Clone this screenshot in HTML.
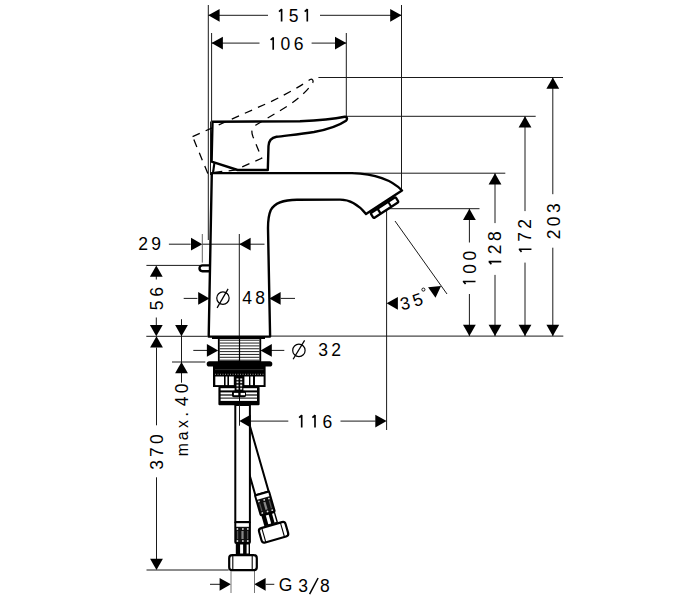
<!DOCTYPE html>
<html><head><meta charset="utf-8"><style>
html,body{margin:0;padding:0;background:#fff;overflow:hidden;width:700px;height:600px;}
svg{display:block;}
text{font-family:"Liberation Sans",sans-serif;fill:#000;}
</style></head><body>
<svg width="700" height="600" viewBox="0 0 700 600">
<rect width="700" height="600" fill="#fff"/>
<line x1="208.3" y1="5" x2="208.3" y2="240" stroke="#1a1a1a" stroke-width="1.0" />
<line x1="401.5" y1="5" x2="401.5" y2="190" stroke="#1a1a1a" stroke-width="1.0" />
<line x1="208.3" y1="15.3" x2="268" y2="15.3" stroke="#1a1a1a" stroke-width="1.0" />
<line x1="320" y1="15.3" x2="401.5" y2="15.3" stroke="#1a1a1a" stroke-width="1.0" />
<polygon points="208.30,15.30 219.60,8.90 219.60,21.70" fill="#000"/>
<polygon points="401.50,15.30 390.20,21.70 390.20,8.90" fill="#000"/>
<line x1="211.6" y1="33" x2="211.6" y2="121.5" stroke="#1a1a1a" stroke-width="1.0" />
<line x1="210.5" y1="121.5" x2="210.5" y2="175" stroke="#1a1a1a" stroke-width="1.0" />
<line x1="346.3" y1="33" x2="346.3" y2="117" stroke="#1a1a1a" stroke-width="1.0" />
<line x1="211.6" y1="43.1" x2="259.5" y2="43.1" stroke="#1a1a1a" stroke-width="1.0" />
<line x1="311.6" y1="43.1" x2="346.3" y2="43.1" stroke="#1a1a1a" stroke-width="1.0" />
<polygon points="211.60,43.10 222.90,36.70 222.90,49.50" fill="#000"/>
<polygon points="346.30,43.10 335.00,49.50 335.00,36.70" fill="#000"/>
<line x1="318.4" y1="77.5" x2="563" y2="77.5" stroke="#1a1a1a" stroke-width="1.0" />
<line x1="346.5" y1="116.3" x2="535.7" y2="116.3" stroke="#1a1a1a" stroke-width="1.0" />
<line x1="355" y1="173.2" x2="505.3" y2="173.2" stroke="#1a1a1a" stroke-width="1.0" />
<line x1="386.6" y1="208.7" x2="479.5" y2="208.7" stroke="#1a1a1a" stroke-width="1.0" />
<line x1="271" y1="336.1" x2="563.3" y2="336.1" stroke="#1a1a1a" stroke-width="1.0" />
<line x1="552.8" y1="77.5" x2="552.8" y2="194.2" stroke="#1a1a1a" stroke-width="1.0" />
<line x1="552.8" y1="247.7" x2="552.8" y2="336.1" stroke="#1a1a1a" stroke-width="1.0" />
<polygon points="552.80,77.50 559.20,88.80 546.40,88.80" fill="#000"/>
<polygon points="552.80,336.10 546.40,324.80 559.20,324.80" fill="#000"/>
<line x1="525.0" y1="116.3" x2="525.0" y2="211.1" stroke="#1a1a1a" stroke-width="1.0" />
<line x1="525.0" y1="262.6" x2="525.0" y2="336.1" stroke="#1a1a1a" stroke-width="1.0" />
<polygon points="525.00,116.30 531.40,127.60 518.60,127.60" fill="#000"/>
<polygon points="525.00,336.10 518.60,324.80 531.40,324.80" fill="#000"/>
<line x1="495.0" y1="173.2" x2="495.0" y2="223.1" stroke="#1a1a1a" stroke-width="1.0" />
<line x1="495.0" y1="274.9" x2="495.0" y2="336.1" stroke="#1a1a1a" stroke-width="1.0" />
<polygon points="495.00,173.20 501.40,184.50 488.60,184.50" fill="#000"/>
<polygon points="495.00,336.10 488.60,324.80 501.40,324.80" fill="#000"/>
<line x1="469.4" y1="208.7" x2="469.4" y2="242.5" stroke="#1a1a1a" stroke-width="1.0" />
<line x1="469.4" y1="294.0" x2="469.4" y2="336.1" stroke="#1a1a1a" stroke-width="1.0" />
<polygon points="469.40,208.70 475.80,220.00 463.00,220.00" fill="#000"/>
<polygon points="469.40,336.10 463.00,324.80 475.80,324.80" fill="#000"/>
<line x1="386.6" y1="208.7" x2="386.6" y2="430" stroke="#1a1a1a" stroke-width="1.0" />
<line x1="395" y1="221" x2="447" y2="294" stroke="#1a1a1a" stroke-width="1.0" />
<line x1="250.5" y1="421.1" x2="288.3" y2="421.1" stroke="#1a1a1a" stroke-width="1.0" />
<line x1="340.5" y1="421.1" x2="375.7" y2="421.1" stroke="#1a1a1a" stroke-width="1.0" />
<polygon points="386.60,421.10 375.30,427.50 375.30,414.70" fill="#000"/>
<polygon points="386.60,303.30 397.90,296.90 397.90,309.70" fill="#000"/>
<polygon points="441.00,286.00 435.50,297.77 428.08,287.34" fill="#000"/>
<line x1="146.3" y1="336.3" x2="207.7" y2="336.3" stroke="#1a1a1a" stroke-width="1.0" />
<line x1="146.4" y1="265.4" x2="200" y2="265.4" stroke="#1a1a1a" stroke-width="1.0" />
<line x1="172" y1="362" x2="205.3" y2="362" stroke="#1a1a1a" stroke-width="1.0" />
<line x1="146.5" y1="570" x2="228.7" y2="570" stroke="#1a1a1a" stroke-width="1.0" />
<line x1="156.3" y1="276" x2="156.3" y2="279.5" stroke="#1a1a1a" stroke-width="1.0" />
<line x1="156.3" y1="317.5" x2="156.3" y2="325.8" stroke="#1a1a1a" stroke-width="1.0" />
<polygon points="156.30,265.40 162.70,276.70 149.90,276.70" fill="#000"/>
<polygon points="156.30,336.30 149.90,325.00 162.70,325.00" fill="#000"/>
<line x1="156.5" y1="347.5" x2="156.5" y2="425.3" stroke="#1a1a1a" stroke-width="1.0" />
<line x1="156.5" y1="477.3" x2="156.5" y2="559.2" stroke="#1a1a1a" stroke-width="1.0" />
<polygon points="156.50,336.30 162.90,347.60 150.10,347.60" fill="#000"/>
<polygon points="156.50,570.00 150.10,558.70 162.90,558.70" fill="#000"/>
<line x1="181.5" y1="319.2" x2="181.5" y2="382.7" stroke="#1a1a1a" stroke-width="1.0" />
<polygon points="181.50,336.30 175.10,325.00 187.90,325.00" fill="#000"/>
<polygon points="181.50,362.00 187.90,373.30 175.10,373.30" fill="#000"/>
<line x1="168.9" y1="244.2" x2="190.7" y2="244.2" stroke="#1a1a1a" stroke-width="1.0" />
<line x1="202.3" y1="244.2" x2="264.5" y2="244.2" stroke="#1a1a1a" stroke-width="1.0" />
<polygon points="202.30,244.20 191.00,250.60 191.00,237.80" fill="#000"/>
<polygon points="239.30,244.20 250.60,237.80 250.60,250.60" fill="#000"/>
<line x1="202.3" y1="234" x2="202.3" y2="262.6" stroke="#555" stroke-width="0.9" />
<line x1="239.3" y1="234" x2="239.3" y2="430" stroke="#1a1a1a" stroke-width="1.0" />
<line x1="183.7" y1="298.4" x2="197.4" y2="298.4" stroke="#1a1a1a" stroke-width="1.0" />
<line x1="280.7" y1="298.4" x2="295" y2="298.4" stroke="#1a1a1a" stroke-width="1.0" />
<polygon points="209.50,298.40 198.20,304.80 198.20,292.00" fill="#000"/>
<polygon points="269.30,298.40 280.60,292.00 280.60,304.80" fill="#000"/>
<line x1="193.3" y1="350.4" x2="207.7" y2="350.4" stroke="#1a1a1a" stroke-width="1.0" />
<line x1="270.7" y1="350.4" x2="284.3" y2="350.4" stroke="#1a1a1a" stroke-width="1.0" />
<polygon points="218.20,350.40 206.90,356.80 206.90,344.00" fill="#000"/>
<polygon points="260.50,350.40 271.80,344.00 271.80,356.80" fill="#000"/>
<line x1="309.6" y1="594.2" x2="318.1" y2="578.0" stroke="#000" stroke-width="1.5" />
<line x1="210" y1="584.3" x2="220" y2="584.3" stroke="#1a1a1a" stroke-width="1.0" />
<line x1="265.7" y1="584.3" x2="274.3" y2="584.3" stroke="#1a1a1a" stroke-width="1.0" />
<polygon points="230.90,584.30 219.60,590.70 219.60,577.90" fill="#000"/>
<polygon points="254.30,584.30 265.60,577.90 265.60,590.70" fill="#000"/>
<line x1="231" y1="570" x2="231" y2="593" stroke="#666" stroke-width="0.9" />
<line x1="254.5" y1="570" x2="254.5" y2="593" stroke="#666" stroke-width="0.9" />
<path d="M 212.5 121.7 L 300 121.3 C 320 120.3 335 118.7 344.8 116.8 C 347.2 116.4 347.6 119.4 346 120.7 C 340 124.8 330 129 314 132 C 300 134.2 285 135.6 276.5 136.8 C 271 137.8 268.8 140.5 268.5 146 L 267.8 170 L 237.6 170 L 211.6 161.6 Z" transform="translate(236.34 177.58) rotate(-23.77) scale(0.987) translate(-236.34 -177.58)" fill="none" stroke="#000" stroke-width="1.3" stroke-dasharray="8 6.5"/>
<path d="M 212.5 121.7 L 300 121.3 C 320 120.3 335 118.7 344.8 116.8 C 347.2 116.4 347.6 119.4 346 120.7 C 340 124.8 330 129 314 132 C 300 134.2 285 135.6 276.5 136.8 C 271 137.8 268.8 140.5 268.5 146 L 267.8 170 L 237.6 170 L 211.6 161.6 Z" stroke="#000" stroke-width="2.4" fill="none" stroke-linejoin="round" stroke-linecap="round"/>
<line x1="214.4" y1="163" x2="213" y2="173" stroke="#000" stroke-width="2.1" />
<path d="M 211.8 173.1 L 352 173.1 C 376 174 392 180 402 190.5 L 366 214 C 358 204 350 199.6 340 199.6 L 297 199.7 C 283 199.8 274.5 203 270.8 210 C 268.6 215 268 221 268 228 L 270.1 336.6 L 208.7 336.6 Z" stroke="#000" stroke-width="2.4" fill="none" stroke-linejoin="round" stroke-linecap="round"/>
<path d="M 209.8 265.4 L 202.4 265.4 A 2.9 2.9 0 0 0 202.4 271.2 L 209.8 271.2" stroke="#000" stroke-width="2.4" fill="none" stroke-linejoin="round" stroke-linecap="round" stroke-width="2"/>
<g transform="translate(383.4 203.8) rotate(-33.1)"><rect x="-16" y="0.9" width="29.8" height="5.9" rx="1.4" fill="#fff" stroke="#000" stroke-width="2.3"/><rect x="-8.8" y="0.9" width="2.3" height="5.9" fill="#000"/><rect x="4.0" y="0.9" width="2.0" height="5.9" fill="#000"/></g>
<rect x="218.8" y="337" width="41.5" height="24.5" fill="#fff" stroke="#000" stroke-width="1.8"/>
<rect x="212" y="336.8" width="53" height="2.2" fill="#000"/>
<line x1="219.5" y1="340.2" x2="259.5" y2="340.2" stroke="#222" stroke-width="1.0" />
<line x1="219.5" y1="343.05" x2="259.5" y2="343.05" stroke="#222" stroke-width="1.0" />
<line x1="219.5" y1="345.9" x2="259.5" y2="345.9" stroke="#222" stroke-width="1.0" />
<line x1="219.5" y1="348.75" x2="259.5" y2="348.75" stroke="#222" stroke-width="1.0" />
<line x1="219.5" y1="351.59999999999997" x2="259.5" y2="351.59999999999997" stroke="#222" stroke-width="1.0" />
<line x1="219.5" y1="354.45" x2="259.5" y2="354.45" stroke="#222" stroke-width="1.0" />
<line x1="219.5" y1="357.3" x2="259.5" y2="357.3" stroke="#222" stroke-width="1.0" />
<line x1="219.5" y1="360.15" x2="259.5" y2="360.15" stroke="#222" stroke-width="1.0" />
<line x1="239.5" y1="337" x2="239.5" y2="362" stroke="#000" stroke-width="1.2" />
<rect x="206.7" y="361.2" width="65.6" height="5.3" rx="2.6" fill="#000"/>
<rect x="213" y="366" width="52.6" height="21" fill="#000"/>
<line x1="215" y1="369.6" x2="263.5" y2="369.6" stroke="#444" stroke-width="0.7" />
<line x1="215" y1="374.3" x2="263.5" y2="374.3" stroke="#999" stroke-width="1" stroke-dasharray="1 1.5"/>
<rect x="215.3" y="376.5" width="8.70" height="8.6" fill="#fff"/>
<rect x="225.6" y="376.5" width="1.80" height="8.6" fill="#fff"/>
<rect x="229" y="376.5" width="4.80" height="8.6" fill="#fff"/>
<rect x="244.4" y="376.5" width="4.60" height="8.6" fill="#fff"/>
<rect x="250.4" y="376.5" width="2.60" height="8.6" fill="#fff"/>
<rect x="255" y="376.5" width="8.60" height="8.6" fill="#fff"/>
<rect x="218.4" y="386.5" width="41.2" height="18.7" rx="1.2" fill="#000"/>
<rect x="220.6" y="388.2" width="36.4" height="2.20" fill="#fff"/>
<rect x="220.6" y="392.4" width="36.4" height="2.00" fill="#fff"/>
<rect x="220.6" y="395.6" width="36.4" height="2.00" fill="#fff"/>
<rect x="220.6" y="398.6" width="36.4" height="2.30" fill="#fff"/>
<line x1="239.5" y1="397" x2="239.5" y2="404.5" stroke="#000" stroke-width="1" />
<rect x="234.6" y="375.5" width="8.8" height="16" fill="#000"/>
<rect x="236.5" y="378.4" width="2" height="1.8" fill="#e8e8e8"/>
<rect x="240.2" y="378.4" width="2" height="1.8" fill="#e8e8e8"/>
<rect x="236.5" y="381.4" width="2" height="1.8" fill="#e8e8e8"/>
<rect x="240.2" y="381.4" width="2" height="1.8" fill="#e8e8e8"/>
<rect x="236.5" y="384.6" width="2" height="1.8" fill="#e8e8e8"/>
<rect x="240.2" y="384.6" width="2" height="1.8" fill="#e8e8e8"/>
<rect x="236.5" y="387.8" width="2" height="1.8" fill="#e8e8e8"/>
<rect x="240.2" y="387.8" width="2" height="1.8" fill="#e8e8e8"/>
<rect x="232" y="390.8" width="14" height="6.4" rx="1.6" fill="#000"/>
<rect x="233.9" y="392.9" width="4.4" height="2.3" fill="#fff"/>
<rect x="240.6" y="392.9" width="4.4" height="2.3" fill="#fff"/>
<g transform="translate(262 493.3) rotate(-16)"><rect x="-6.9" y="-70" width="13.8" height="70" fill="#fff" stroke="#000" stroke-width="2"/><rect x="-7.4" y="0" width="14.8" height="21" rx="1" fill="#111" stroke="#000" stroke-width="1.8"/><rect x="-6.3" y="1.2" width="12.6" height="3.6" fill="#fff"/><circle cx="-5.2" cy="7" r="0.9" fill="#ddd"/><circle cx="-5.2" cy="19" r="0.9" fill="#ddd"/><circle cx="0.3" cy="7" r="0.9" fill="#ddd"/><circle cx="0.3" cy="19" r="0.9" fill="#ddd"/><circle cx="5.2" cy="7" r="0.9" fill="#ddd"/><circle cx="5.2" cy="19" r="0.9" fill="#ddd"/><rect x="-1.2" y="9" width="2.2" height="8" fill="#888"/><rect x="-5.6" y="9" width="1.2" height="8" fill="#555"/><rect x="4.4" y="9" width="1.2" height="8" fill="#555"/><rect x="-6.8" y="21" width="14.2" height="11.6" fill="#000"/><rect x="-2.5" y="22.5" width="3" height="9" fill="#fff"/><rect x="4" y="22.5" width="2" height="9" fill="#fff"/><rect x="-13.4" y="33.2" width="27.6" height="15" rx="3" fill="#fff" stroke="#000" stroke-width="2.2"/><line x1="-9.8" y1="33.2" x2="-9.8" y2="48.2" stroke="#000" stroke-width="1.1"/><line x1="9.6" y1="33.2" x2="9.6" y2="48.2" stroke="#000" stroke-width="1.1"/></g>
<rect x="235.3" y="405" width="14.6" height="117" fill="#fff" stroke="#000" stroke-width="2"/>
<line x1="239.5" y1="404.5" x2="239.5" y2="425.7" stroke="#1a1a1a" stroke-width="1.0" />
<g transform="translate(242.6 522)"><rect x="-7.4" y="0" width="14.8" height="21" rx="1" fill="#111" stroke="#000" stroke-width="1.8"/><rect x="-6.3" y="1.2" width="12.6" height="3.6" fill="#fff"/><circle cx="-5.2" cy="7" r="0.9" fill="#ddd"/><circle cx="-5.2" cy="19" r="0.9" fill="#ddd"/><circle cx="0.3" cy="7" r="0.9" fill="#ddd"/><circle cx="0.3" cy="19" r="0.9" fill="#ddd"/><circle cx="5.2" cy="7" r="0.9" fill="#ddd"/><circle cx="5.2" cy="19" r="0.9" fill="#ddd"/><rect x="-1.2" y="9" width="2.2" height="8" fill="#888"/><rect x="-5.6" y="9" width="1.2" height="8" fill="#555"/><rect x="4.4" y="9" width="1.2" height="8" fill="#555"/><rect x="-6.8" y="21" width="14.2" height="11.6" fill="#000"/><rect x="-2.5" y="22.5" width="3" height="9" fill="#fff"/><rect x="4" y="22.5" width="2" height="9" fill="#fff"/><rect x="-13.4" y="33.2" width="27.6" height="15" rx="3" fill="#fff" stroke="#000" stroke-width="2.2"/><line x1="-9.8" y1="33.2" x2="-9.8" y2="48.2" stroke="#000" stroke-width="1.1"/><line x1="9.6" y1="33.2" x2="9.6" y2="48.2" stroke="#000" stroke-width="1.1"/></g>
<polygon points="239.30,421.10 250.60,414.70 250.60,427.50" fill="#000"/>
<g transform="translate(293.50 15.25)"><path d="M -11.90 -6.35 L -11.90 6.25 M -11.70 -6.05 L -14.50 -3.65" stroke="#000" stroke-width="1.65" fill="none" stroke-linecap="butt"/><text x="0.00" y="6.25" text-anchor="middle" font-size="17.5">5</text><path d="M 13.80 -6.35 L 13.80 6.25 M 14.00 -6.05 L 11.20 -3.65" stroke="#000" stroke-width="1.65" fill="none" stroke-linecap="butt"/></g>
<g transform="translate(285.40 43.60)"><path d="M -12.20 -6.35 L -12.20 6.25 M -12.00 -6.05 L -14.80 -3.65" stroke="#000" stroke-width="1.65" fill="none" stroke-linecap="butt"/><text x="0.00" y="6.25" text-anchor="middle" font-size="17.5">0</text><text x="13.15" y="6.25" text-anchor="middle" font-size="17.5">6</text></g>
<g transform="translate(149.60 244.00)"><text x="-6.60" y="6.25" text-anchor="middle" font-size="17.5">2</text><text x="6.60" y="6.25" text-anchor="middle" font-size="17.5">9</text></g>
<g transform="translate(253.60 298.10)"><text x="-6.50" y="6.25" text-anchor="middle" font-size="17.5">4</text><text x="6.50" y="6.25" text-anchor="middle" font-size="17.5">8</text></g>
<g transform="translate(329.60 350.00)"><text x="-6.50" y="6.25" text-anchor="middle" font-size="17.5">3</text><text x="6.50" y="6.25" text-anchor="middle" font-size="17.5">2</text></g>
<g transform="translate(314.05 421.30)"><path d="M -12.35 -6.35 L -12.35 6.25 M -12.15 -6.05 L -14.95 -3.65" stroke="#000" stroke-width="1.65" fill="none" stroke-linecap="butt"/><path d="M 0.95 -6.35 L 0.95 6.25 M 1.15 -6.05 L -1.65 -3.65" stroke="#000" stroke-width="1.65" fill="none" stroke-linecap="butt"/><text x="13.30" y="6.25" text-anchor="middle" font-size="17.5">6</text></g>
<g transform="translate(156.25 298.65) rotate(-90)"><text x="-6.65" y="6.25" text-anchor="middle" font-size="17.5">5</text><text x="6.65" y="6.25" text-anchor="middle" font-size="17.5">6</text></g>
<g transform="translate(156.30 452.10) rotate(-90)"><text x="-12.90" y="6.25" text-anchor="middle" font-size="17.5">3</text><text x="0.00" y="6.25" text-anchor="middle" font-size="17.5">7</text><text x="12.90" y="6.25" text-anchor="middle" font-size="17.5">0</text></g>
<g transform="translate(469.25 269.00) rotate(-90)"><path d="M -12.45 -6.35 L -12.45 6.25 M -12.25 -6.05 L -15.05 -3.65" stroke="#000" stroke-width="1.65" fill="none" stroke-linecap="butt"/><text x="0.00" y="6.25" text-anchor="middle" font-size="17.5">0</text><text x="13.40" y="6.25" text-anchor="middle" font-size="17.5">0</text></g>
<g transform="translate(495.00 249.40) rotate(-90)"><path d="M -12.20 -6.35 L -12.20 6.25 M -12.00 -6.05 L -14.80 -3.65" stroke="#000" stroke-width="1.65" fill="none" stroke-linecap="butt"/><text x="0.00" y="6.25" text-anchor="middle" font-size="17.5">2</text><text x="13.15" y="6.25" text-anchor="middle" font-size="17.5">8</text></g>
<g transform="translate(525.20 237.00) rotate(-90)"><path d="M -12.25 -6.35 L -12.25 6.25 M -12.05 -6.05 L -14.85 -3.65" stroke="#000" stroke-width="1.65" fill="none" stroke-linecap="butt"/><text x="0.00" y="6.25" text-anchor="middle" font-size="17.5">7</text><text x="13.20" y="6.25" text-anchor="middle" font-size="17.5">2</text></g>
<g transform="translate(553.30 221.30) rotate(-90)"><text x="-13.15" y="6.25" text-anchor="middle" font-size="17.5">2</text><text x="0.00" y="6.25" text-anchor="middle" font-size="17.5">0</text><text x="13.15" y="6.25" text-anchor="middle" font-size="17.5">3</text></g>
<text x="0" y="6.25" text-anchor="middle" font-size="17.5" transform="translate(181.90 388.50) rotate(-90)">0</text>
<text x="0" y="6.25" text-anchor="middle" font-size="17.5" transform="translate(181.90 401.45) rotate(-90)">4</text>
<text x="0" y="6.25" text-anchor="middle" font-size="17.5" transform="translate(181.90 414.20) rotate(-90)">.</text>
<text x="0" y="6.25" text-anchor="middle" font-size="15.8" transform="translate(181.90 424.15) rotate(-90)">x</text>
<text x="0" y="6.25" text-anchor="middle" font-size="15.8" transform="translate(181.90 435.75) rotate(-90)">a</text>
<text x="0" y="6.25" text-anchor="middle" font-size="15.8" transform="translate(181.90 449.75) rotate(-90)">m</text>
<text x="287.40" y="591.25" text-anchor="middle" font-size="17.5" letter-spacing="3.8">G</text>
<text x="305.00" y="591.90" text-anchor="middle" font-size="17.5" letter-spacing="3.8">3</text>
<text x="326.80" y="591.90" text-anchor="middle" font-size="17.5" letter-spacing="3.8">8</text>
<text x="0" y="0" text-anchor="middle" font-size="17.5" transform="translate(406.3 309.2) rotate(-12)">3</text>
<text x="0" y="0" text-anchor="middle" font-size="17.5" transform="translate(419.5 305.5) rotate(-19)">5</text>
<circle cx="423.4" cy="289.6" r="1.55" fill="none" stroke="#000" stroke-width="0.9"/>
<circle cx="222.95" cy="298.1" r="6.2" fill="none" stroke="#000" stroke-width="1.2"/>
<line x1="217.1" y1="307.9" x2="228.1" y2="288.9" stroke="#000" stroke-width="1.25"/>
<circle cx="298.9" cy="350.4" r="6.2" fill="none" stroke="#000" stroke-width="1.2"/>
<line x1="293.1" y1="359.3" x2="304.6" y2="340.4" stroke="#000" stroke-width="1.25"/>
</svg></body></html>
